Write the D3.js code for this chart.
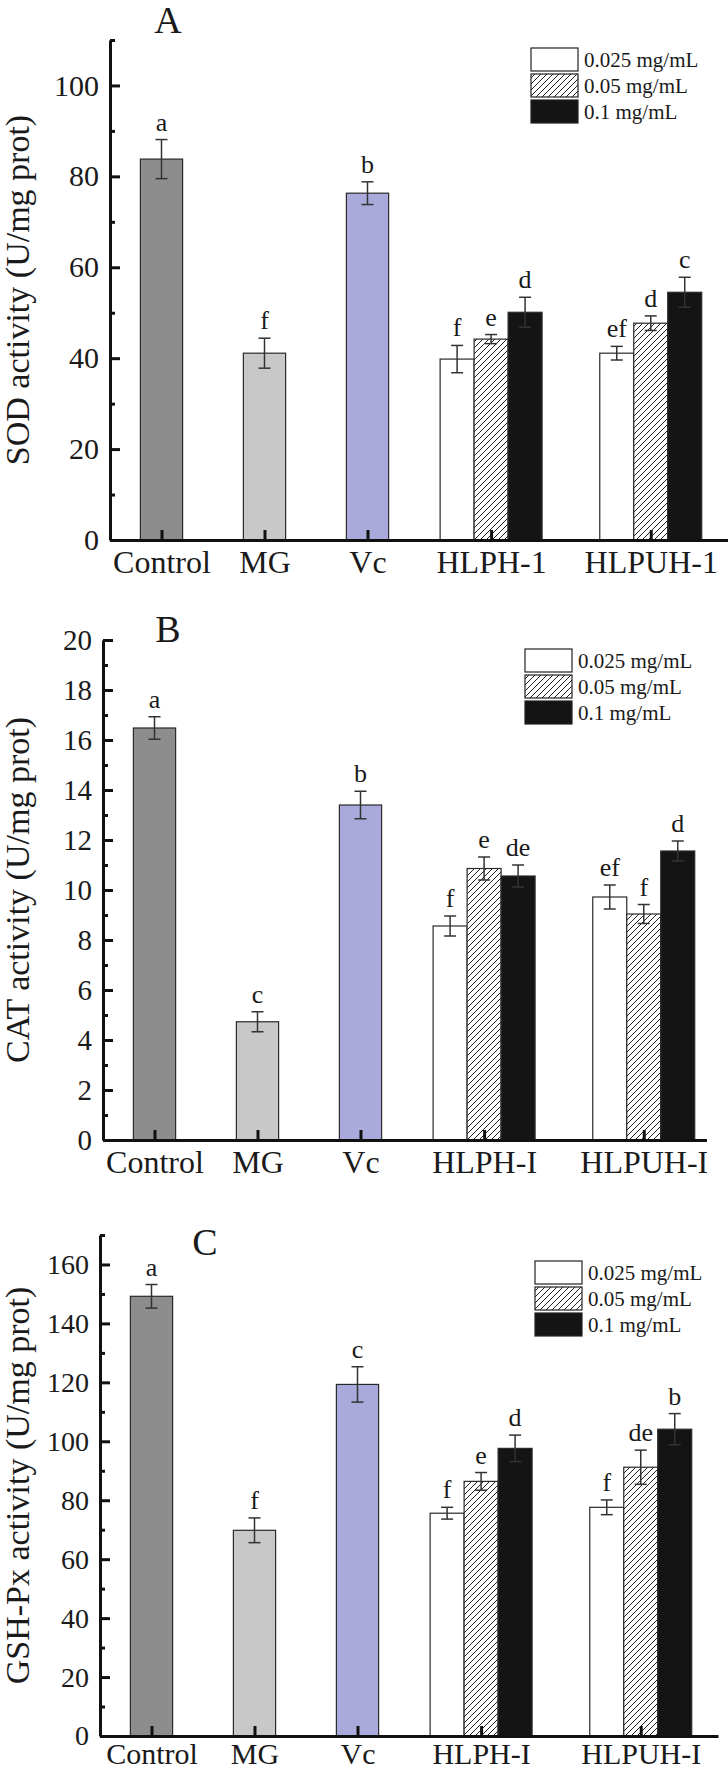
<!DOCTYPE html>
<html>
<head>
<meta charset="utf-8">
<script src="https://cdn.jsdelivr.net/npm/d3@7"></script>
<style>
  body { margin: 0; background: #fff; }
  text { font-family: "Liberation Serif", "Times New Roman", serif; fill: #1a1a1a; }
</style>
</head>
<body>
<script>
// categories and legend entries
var catsA = ["Control", "MG", "Vc", "HLPH-1", "HLPUH-1"];
var catsBC = ["Control", "MG", "Vc", "HLPH-I", "HLPUH-I"];
var doses = ["0.025 mg/mL", "0.05 mg/mL", "0.1 mg/mL"];

// SOD (panel A): Control, MG, Vc then the two dose groups
var sodSingle = [83.8, 41.1, 76.3];
var sodSingleErr = [4.3, 3.3, 2.5];
var sodSingleLetters = ["a", "f", "b"];
var sodHLPH = [39.8, 44.2, 50.1];
var sodHLPHErr = [3.0, 1.0, 3.3];
var sodHLPHLetters = ["f", "e", "d"];
var sodHLPUH = [41.1, 47.7, 54.5];
var sodHLPUHErr = [1.5, 1.6, 3.3];
var sodHLPUHLetters = ["ef", "d", "c"];

// CAT (panel B)
var catSingle = [16.48, 4.73, 13.4];
var catSingleErr = [0.45, 0.4, 0.55];
var catSingleLetters = ["a", "c", "b"];
var catHLPH = [8.56, 10.86, 10.56];
var catHLPHErr = [0.4, 0.46, 0.44];
var catHLPHLetters = ["f", "e", "de"];
var catHLPUH = [9.72, 9.04, 11.56];
var catHLPUHErr = [0.48, 0.38, 0.4];
var catHLPUHLetters = ["ef", "f", "d"];

// GSH-Px (panel C)
var gshSingle = [149.2, 69.8, 119.3];
var gshSingleErr = [4.0, 4.2, 6.0];
var gshSingleLetters = ["a", "f", "c"];
var gshHLPH = [75.6, 86.4, 97.6];
var gshHLPHErr = [2.0, 3.0, 4.5];
var gshHLPHLetters = ["f", "e", "d"];
var gshHLPUH = [77.6, 91.2, 104.1];
var gshHLPUHErr = [2.5, 5.8, 5.3];
var gshHLPUHLetters = ["f", "de", "b"];

// colours
var singleColors = ["#8d8d8d", "#c8c8c8", "#a9a9dc"];
var doseFills = ["#ffffff", "url(#hatch)", "#141414"];

// where each category sits on the x axis (groups are spaced wider)
var slots = [1, 2, 3, 4.2, 5.75];
var singleW = 0.41, subW = 0.33;

var panels = [
  { title: "A", cats: catsA, ylabel: "SOD activity (U/mg prot)",
    single: sodSingle, singleErr: sodSingleErr, singleLetters: sodSingleLetters,
    groups: [[sodHLPH, sodHLPHErr, sodHLPHLetters], [sodHLPUH, sodHLPUHErr, sodHLPUHLetters]],
    yMax: 110, step: 20, top: 40, bottom: 540, axisX: 110, clipW: null, catPad: 10,
    titleX: 168, titleY: 33, legX: 531, legY: 48, catFont: 32, tickFont: 30 },
  { title: "B", cats: catsBC, ylabel: "CAT activity (U/mg prot)",
    single: catSingle, singleErr: catSingleErr, singleLetters: catSingleLetters,
    groups: [[catHLPH, catHLPHErr, catHLPHLetters], [catHLPUH, catHLPUHErr, catHLPUHLetters]],
    yMax: 20, step: 2, top: 640, bottom: 1140, axisX: 103, clipW: 604, catPad: 10,
    titleX: 168, titleY: 642, legX: 525, legY: 649, catFont: 32, tickFont: 29 },
  { title: "C", cats: catsBC, ylabel: "GSH-Px activity (U/mg prot)",
    single: gshSingle, singleErr: gshSingleErr, singleLetters: gshSingleLetters,
    groups: [[gshHLPH, gshHLPHErr, gshHLPHLetters], [gshHLPUH, gshHLPUHErr, gshHLPUHLetters]],
    yMax: 170, step: 20, top: 1235, bottom: 1736, axisX: 100, clipW: null, catPad: 7,
    titleX: 205, titleY: 1255, legX: 535, legY: 1261, catFont: 30, tickFont: 28 }
];

var svg = d3.select("body").append("svg")
    .attr("width", 728)
    .attr("height", 1771);

var defs = svg.append("defs");

// diagonal hatch for the middle dose
var pat = defs.append("pattern")
    .attr("id", "hatch")
    .attr("patternUnits", "userSpaceOnUse")
    .attr("width", 6).attr("height", 6);
pat.append("rect").attr("width", 6).attr("height", 6).attr("fill", "#fff");
pat.append("path")
    .attr("d", "M-1,1 l2,-2 M0,6 l6,-6 M5,7 l2,-2")
    .attr("stroke", "#222").attr("stroke-width", 1);

panels.forEach(function(p, pi) {
    var h = p.bottom - p.top;
    var g = svg.append("g").attr("transform", "translate(" + p.axisX + "," + p.top + ")");

    // panel B is cropped on the right in the original figure
    if (p.clipW) {
        defs.append("clipPath").attr("id", "clip" + pi)
            .append("rect")
            .attr("x", -p.axisX).attr("y", -60)
            .attr("width", p.axisX + p.clipW).attr("height", h + 120);
        g.attr("clip-path", "url(#clip" + pi + ")");
    }

    var x = d3.scaleLinear().domain([0.5, 6.5]).range([0, 618]);
    var y = d3.scaleLinear().domain([0, p.yMax]).range([h, 0]);

    // flatten into one list of bars
    var bars = [];
    p.single.forEach(function(v, i) {
        bars.push({pos: slots[i], w: singleW, v: v, e: p.singleErr[i], letter: p.singleLetters[i], fill: singleColors[i]});
    });
    p.groups.forEach(function(grp, j) {
        grp[0].forEach(function(v, k) {
            bars.push({pos: slots[3 + j] + (k - 1) * subW, w: subW, v: v, e: grp[1][k], letter: grp[2][k], fill: doseFills[k]});
        });
    });

    g.selectAll(".bar")
        .data(bars)
        .enter().append("rect")
        .attr("x", function(d) { return x(d.pos - d.w / 2); })
        .attr("width", function(d) { return x(d.pos + d.w / 2) - x(d.pos - d.w / 2); })
        .attr("y", function(d) { return y(d.v); })
        .attr("height", function(d) { return h - y(d.v); })
        .attr("fill", function(d) { return d.fill; })
        .attr("stroke", "#2a2a2a")
        .attr("stroke-width", 1.2);

    // error bars
    var err = g.selectAll(".err").data(bars).enter().append("g").attr("stroke", "#333").attr("stroke-width", 1.5);
    err.append("line")
        .attr("x1", function(d) { return x(d.pos); })
        .attr("x2", function(d) { return x(d.pos); })
        .attr("y1", function(d) { return y(d.v - d.e); })
        .attr("y2", function(d) { return y(d.v + d.e); });
    err.append("line")
        .attr("x1", function(d) { return x(d.pos) - 6; })
        .attr("x2", function(d) { return x(d.pos) + 6; })
        .attr("y1", function(d) { return y(d.v + d.e); })
        .attr("y2", function(d) { return y(d.v + d.e); });
    err.append("line")
        .attr("x1", function(d) { return x(d.pos) - 6; })
        .attr("x2", function(d) { return x(d.pos) + 6; })
        .attr("y1", function(d) { return y(d.v - d.e); })
        .attr("y2", function(d) { return y(d.v - d.e); });

    // significance letters
    g.selectAll(".letter").data(bars).enter().append("text")
        .attr("x", function(d) { return x(d.pos); })
        .attr("y", function(d) { return y(d.v + d.e) - 9; })
        .attr("text-anchor", "middle")
        .style("font-size", "26px")
        .text(function(d) { return d.letter; });

    // y axis: major ticks with labels, minor ticks without
    var major = d3.range(0, p.yMax + 0.001, p.step);
    var minor = d3.range(p.step / 2, p.yMax + 0.001, p.step);
    var yAx = g.append("g")
        .call(d3.axisLeft(y).tickValues(major).tickSizeInner(-10).tickSizeOuter(0).tickPadding(11));
    yAx.selectAll("text").style("font-size", p.tickFont + "px").attr("fill", "#1a1a1a");
    var yMin = g.append("g")
        .call(d3.axisLeft(y).tickValues(minor).tickSizeInner(-5).tickSizeOuter(0).tickFormat(""));
    yMin.select(".domain").remove();

    // x axis
    var xAx = g.append("g")
        .attr("transform", "translate(0," + h + ")")
        .call(d3.axisBottom(x).tickValues(slots).tickSizeInner(-10).tickSizeOuter(0).tickPadding(p.catPad)
            .tickFormat(function(d, i) { return p.cats[i]; }));
    xAx.selectAll("text").style("font-size", p.catFont + "px").attr("fill", "#1a1a1a");

    [yAx, yMin, xAx].forEach(function(a) {
        a.attr("font-family", null);
        a.selectAll("path, line").attr("stroke", "#111").attr("stroke-width", 3);
    });

    // panel letter
    svg.append("text")
        .attr("x", p.titleX)
        .attr("y", p.titleY)
        .attr("text-anchor", "middle")
        .style("font-size", "38px")
        .text(p.title);

    // y axis title
    svg.append("text")
        .attr("transform", "translate(29," + (p.top + h / 2) + ") rotate(-90)")
        .attr("text-anchor", "middle")
        .style("font-size", "34px")
        .text(p.ylabel);

    // legend
    var leg = svg.append("g").attr("transform", "translate(" + p.legX + "," + p.legY + ")");
    doses.forEach(function(d, i) {
        leg.append("rect")
            .attr("x", 0).attr("y", i * 26)
            .attr("width", 47).attr("height", 23)
            .attr("fill", doseFills[i])
            .attr("stroke", "#222").attr("stroke-width", 1.2);
        leg.append("text")
            .attr("x", 53).attr("y", i * 26 + 19)
            .style("font-size", "21px")
            .text(d);
    });
});
</script>
</body>
</html>
